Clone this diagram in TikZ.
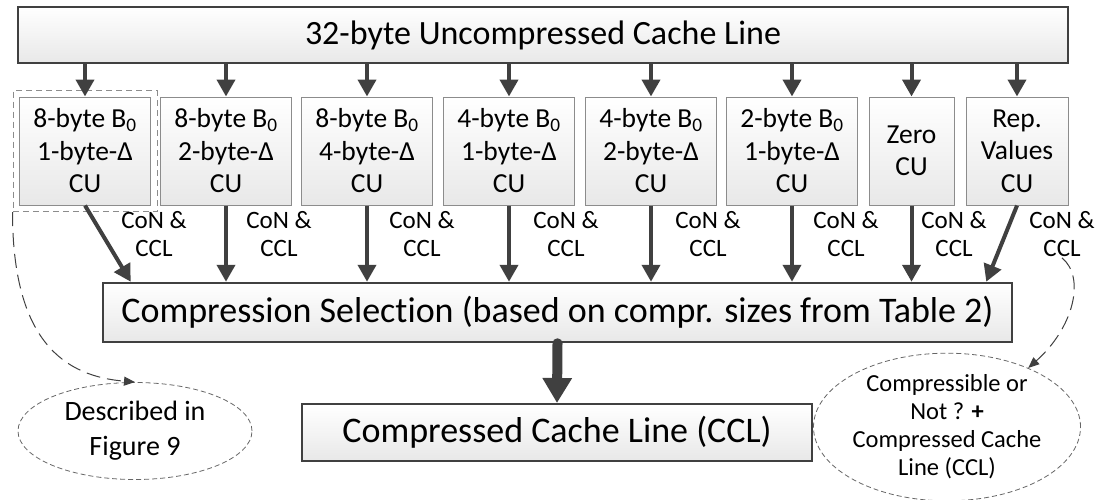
\documentclass[tikz,border=0pt]{standalone}
\usepackage{fontspec}
\setmainfont{Carlito}[Ligatures=NoCommon]
\usetikzlibrary{arrows.meta}
\usetikzlibrary{shapes.geometric}
\usetikzlibrary{fit}

\definecolor{darkline}{HTML}{404040}

\begin{document}
\begin{tikzpicture}[x=1pt,y=-1pt,
            big box/.style={draw=darkline, line width=2.5pt, top color=white, bottom color=black!9, inner sep=0pt},
            cu box/.style={draw=black!45, line width=1pt, top color=white, bottom color=black!9, inner sep=0pt,
                minimum height=108pt, align=center, font=\fontsize{27.5}{32.5}\selectfont},
            con/.style={align=center, inner sep=1pt, font=\fontsize{25}{28}\selectfont},
            note/.style={ellipse, draw=black!60, dashed, dash pattern=on 5pt off 3pt, line width=0.8pt,
                align=center, inner sep=0pt},
            arr/.style={draw=darkline, line width=4pt, -{Triangle[length=17pt,width=18pt]}},
            fat arr/.style={draw=darkline, line width=10pt, line cap=round, -{Triangle[length=25pt,width=28pt]}},
            link/.style={draw=darkline, line width=1pt, dash pattern=on 14pt off 7pt, -{Triangle[length=11pt,width=9pt]}},
            ]
            \useasboundingbox (0,0) rectangle (1099,499);

            % top and bottom boxes
            \node[big box, minimum width=1050pt, minimum height=56pt, font=\fontsize{34}{40}\selectfont] (line) at (543,35) {32-byte Uncompressed Cache Line};
            \node[big box, minimum width=909pt, minimum height=59pt, font=\fontsize{36}{40}\selectfont] (sel) at (557.5,312.5) {Compression Selection (based on compr. sizes from Table 2)};
            \node[big box, line width=2pt, minimum width=510pt, minimum height=57pt, font=\fontsize{36}{40}\selectfont] (ccl) at (557,432.5) {Compressed Cache Line (CCL)};

            % compression units
            \node[cu box, minimum width=131pt] (cu1) at (85,151) {8-byte B\textsubscript{0}\\1-byte-Δ\\CU};
            \node[cu box, minimum width=131pt] (cu2) at (226,151) {8-byte B\textsubscript{0}\\2-byte-Δ\\CU};
            \node[cu box, minimum width=131pt] (cu3) at (367,151) {8-byte B\textsubscript{0}\\4-byte-Δ\\CU};
            \node[cu box, minimum width=131pt] (cu4) at (509,151) {4-byte B\textsubscript{0}\\1-byte-Δ\\CU};
            \node[cu box, minimum width=131pt] (cu5) at (651,151) {4-byte B\textsubscript{0}\\2-byte-Δ\\CU};
            \node[cu box, minimum width=131pt] (cu6) at (792,151) {2-byte B\textsubscript{0}\\1-byte-Δ\\CU};
            \node[cu box, minimum width=85pt] (cu7) at (911.5,151) {Zero\\CU};
            \node[cu box, minimum width=102pt] (cu8) at (1017,151) {Rep.\\Values\\CU};

            \node[draw=black!45, dash pattern=on 6pt off 4pt, line width=1pt, inner sep=6pt, fit=(cu1)] (grp) {};

            % CoN labels
            \node[con] (lab1) at (154,234) {CoN \&\\CCL};
            \node[con] (lab2) at (279,234) {CoN \&\\CCL};
            \node[con] (lab3) at (422,234) {CoN \&\\CCL};
            \node[con] (lab4) at (566,234) {CoN \&\\CCL};
            \node[con] (lab5) at (708,234) {CoN \&\\CCL};
            \node[con] (lab6) at (846,234) {CoN \&\\CCL};
            \node[con] (lab7) at (954,234) {CoN \&\\CCL};
            \node[con] (lab8) at (1062,234) {CoN \&\\CCL};

            % notes
            \node[note, minimum width=234pt, minimum height=97pt, font=\fontsize{28}{35}\selectfont] (desc) at (135,431) {Described in\\Figure 9};
            \node[note, minimum width=244pt, minimum height=139pt, font=\fontsize{24.5}{28}\selectfont] (res) at (947,427) {Compressible or\\Not ? \textbf{+}\\Compressed Cache\\Line (CCL)};

            \foreach \i in {1,...,8}
                \draw[arr] (line.south -| cu\i.north) -- (cu\i.north);
            \foreach \i in {2,...,7}
                \draw[arr] (cu\i.south) -- (sel.north -| cu\i.south);
            \draw[arr] (cu1.south) -- ([xshift=29pt]sel.north west);
            \draw[arr] (cu8.south) -- ([xshift=-27pt]sel.north east);
            \draw[fat arr] (sel.south) -- (ccl.north);

            \draw[link] (grp.south west) .. controls +(0,130) and +(-70,-6) .. (desc.north);
            \draw[link] (lab8.south) .. controls +(24,20) and +(45,-40) .. (res.36);
        \end{tikzpicture}
\end{document}
